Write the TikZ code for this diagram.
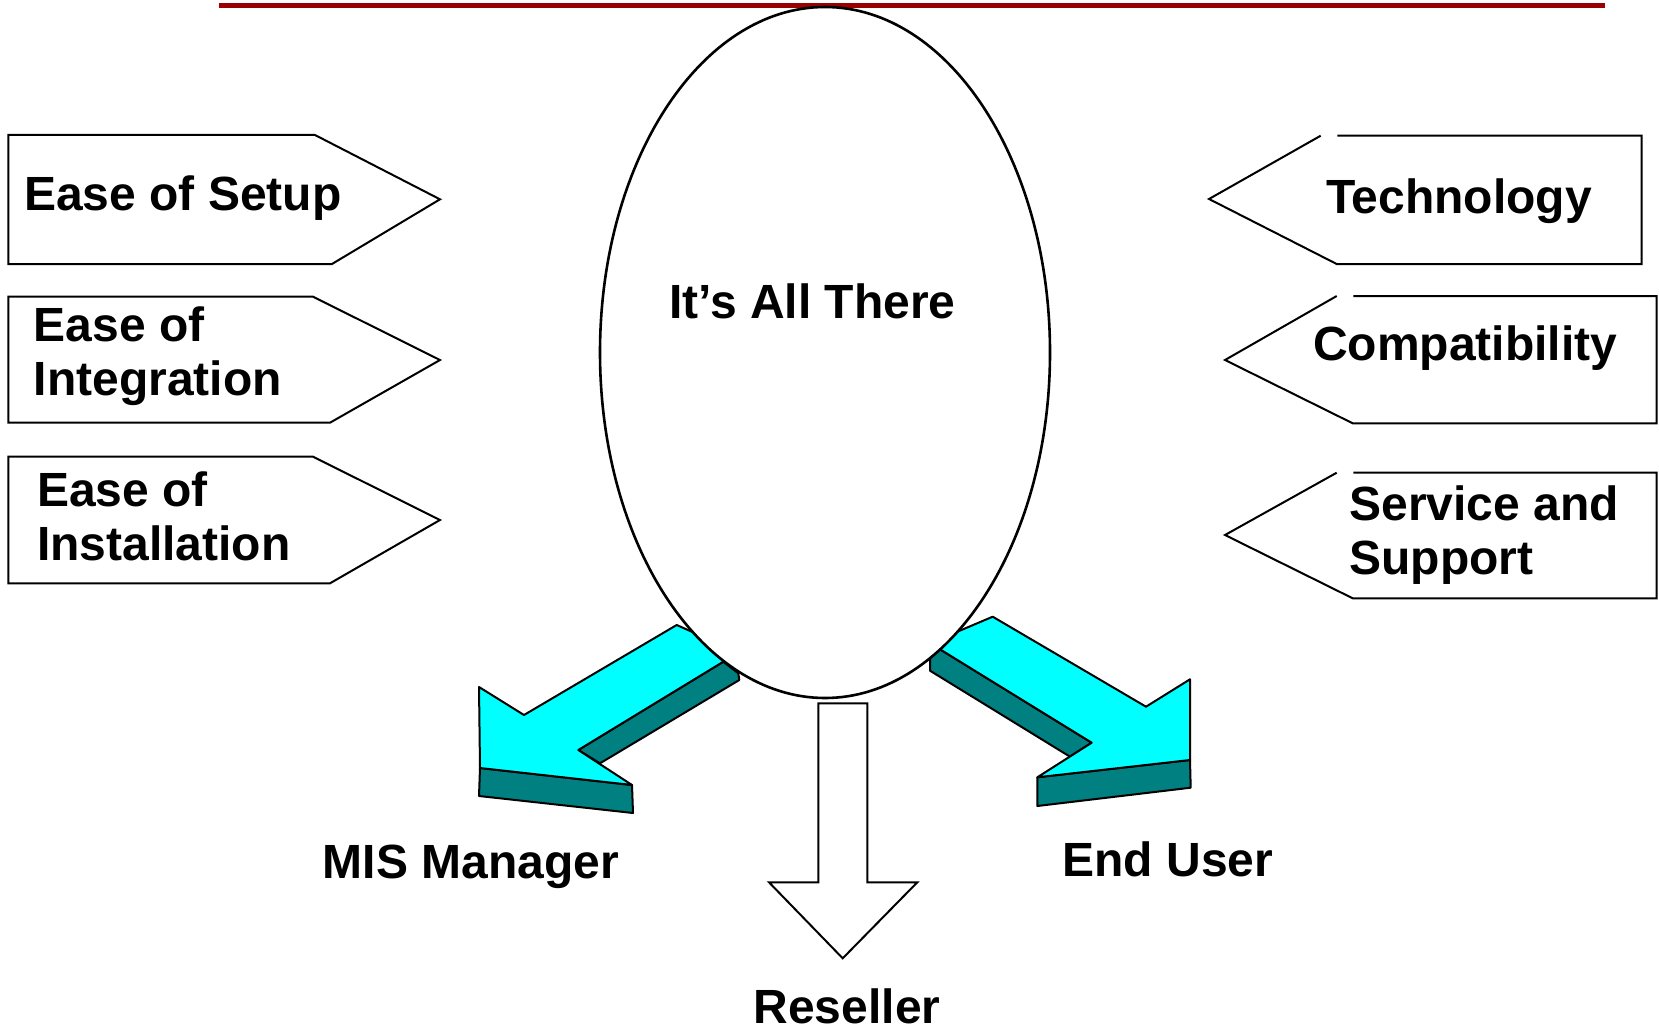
\documentclass[tikz,border=0pt]{standalone}
\usepackage{fontspec}
\setmainfont{Liberation Sans}
\definecolor{barred}{HTML}{990000}
\definecolor{arrcyan}{HTML}{00FFFF}
\definecolor{arrteal}{HTML}{008080}
\tikzset{
  box/.style={draw=black, line width=2pt, fill=white, line join=miter},
  face/.style={draw=black, line width=2pt, fill=arrcyan, line join=round},
  side/.style={draw=black, line width=2pt, fill=arrteal, line join=round},
  lbl/.style={font=\bfseries\fontsize{48}{53.5}\selectfont, inner sep=0pt, outer sep=0pt, align=left, text=black}
}
\begin{document}
\begin{tikzpicture}[x=1pt,y=-1pt]
\useasboundingbox (0,0) rectangle (1659,1030);
% top bar
\fill[barred] (219,2.7) rectangle (1605,8);
% left pentagons
\draw[box] (8.3,135)--(315,135)--(440,199.3)--(332,264)--(8.3,264)--cycle;
\draw[box] (8.3,296.7)--(313,296.7)--(440,360)--(330,422.7)--(8.3,422.7)--cycle;
\draw[box] (8.3,456.7)--(313,456.7)--(440,520)--(330,583.3)--(8.3,583.3)--cycle;
% right pentagons
\draw[box,fill=none] (1320.7,135.7)--(1209,199)--(1336.7,264)--(1641.7,264)--(1641.7,135.7)--(1337.3,135.7);
\draw[box,fill=none] (1336.7,296)--(1225,360)--(1352.7,423.3)--(1656.7,423.3)--(1656.7,296)--(1353.3,296);
\draw[box,fill=none] (1336.7,472.7)--(1225,535)--(1352.7,598.3)--(1656.7,598.3)--(1656.7,472.7)--(1353.3,472.7);
% left 3D arrow
\draw[side] (480,768)--(632,785)--(633,813)--(479,796)--cycle;
\draw[side] (578.3,750)--(723.3,661.7)--(738.3,673.3)--(739.3,680)--(600,763.3)--cycle;
\draw[face] (676.7,625)--(766.7,665)--(723.3,661.7)--(578.3,750)--(632,785)--(480,768)--(479,687)--(524,715)--cycle;
% right 3D arrow
\draw[side] (1037.3,777.3)--(1190,760)--(1190.7,787.7)--(1037.3,806)--cycle;
\draw[side] (940,649.3)--(1091.7,742.7)--(1070,756.7)--(930,670.7)--(930,656.7)--cycle;
\draw[face] (992.7,616.7)--(1146,706.7)--(1190,679.3)--(1190,760)--(1037.3,777.3)--(1091.7,742.7)--(940,649.3)--(917.3,648.7)--cycle;
% central ellipse
\draw[line width=2.6pt, fill=white] (825,352.5) ellipse [x radius=225pt, y radius=345.5pt];
% reseller arrow
\draw[box] (818.3,703.3)--(867.3,703.3)--(867.3,882.3)--(917.3,882.3)--(842.7,958.3)--(769,882.3)--(818.3,882.3)--cycle;
% texts
\node[lbl, anchor=base west] (setup) at (24,210) {Ease of Setup};
\node[lbl, anchor=base west] (integ) at (33.7,395) {Ease of\\Integration};
\node[lbl, anchor=base west] (install) at (37,560) {Ease of\\Installation};
\node[lbl, anchor=base west] (tech) at (1326,213) {Technology};
\node[lbl, anchor=base west] (compat) at (1313,360) {Compatibility};
\node[lbl, anchor=base west] (service) at (1349.5,574.3) {Service and\\Support};
\node[lbl, anchor=base] (there) at (812.5,318.3) {It’s All There};
\node[lbl, anchor=base] (mis) at (471,878.5) {MIS Manager};
\node[lbl, anchor=base] (enduser) at (1168,876) {End User};
\node[lbl, anchor=base, text depth=0pt] (reseller) at (847,1023) {Reseller};
\end{tikzpicture}
\end{document}
